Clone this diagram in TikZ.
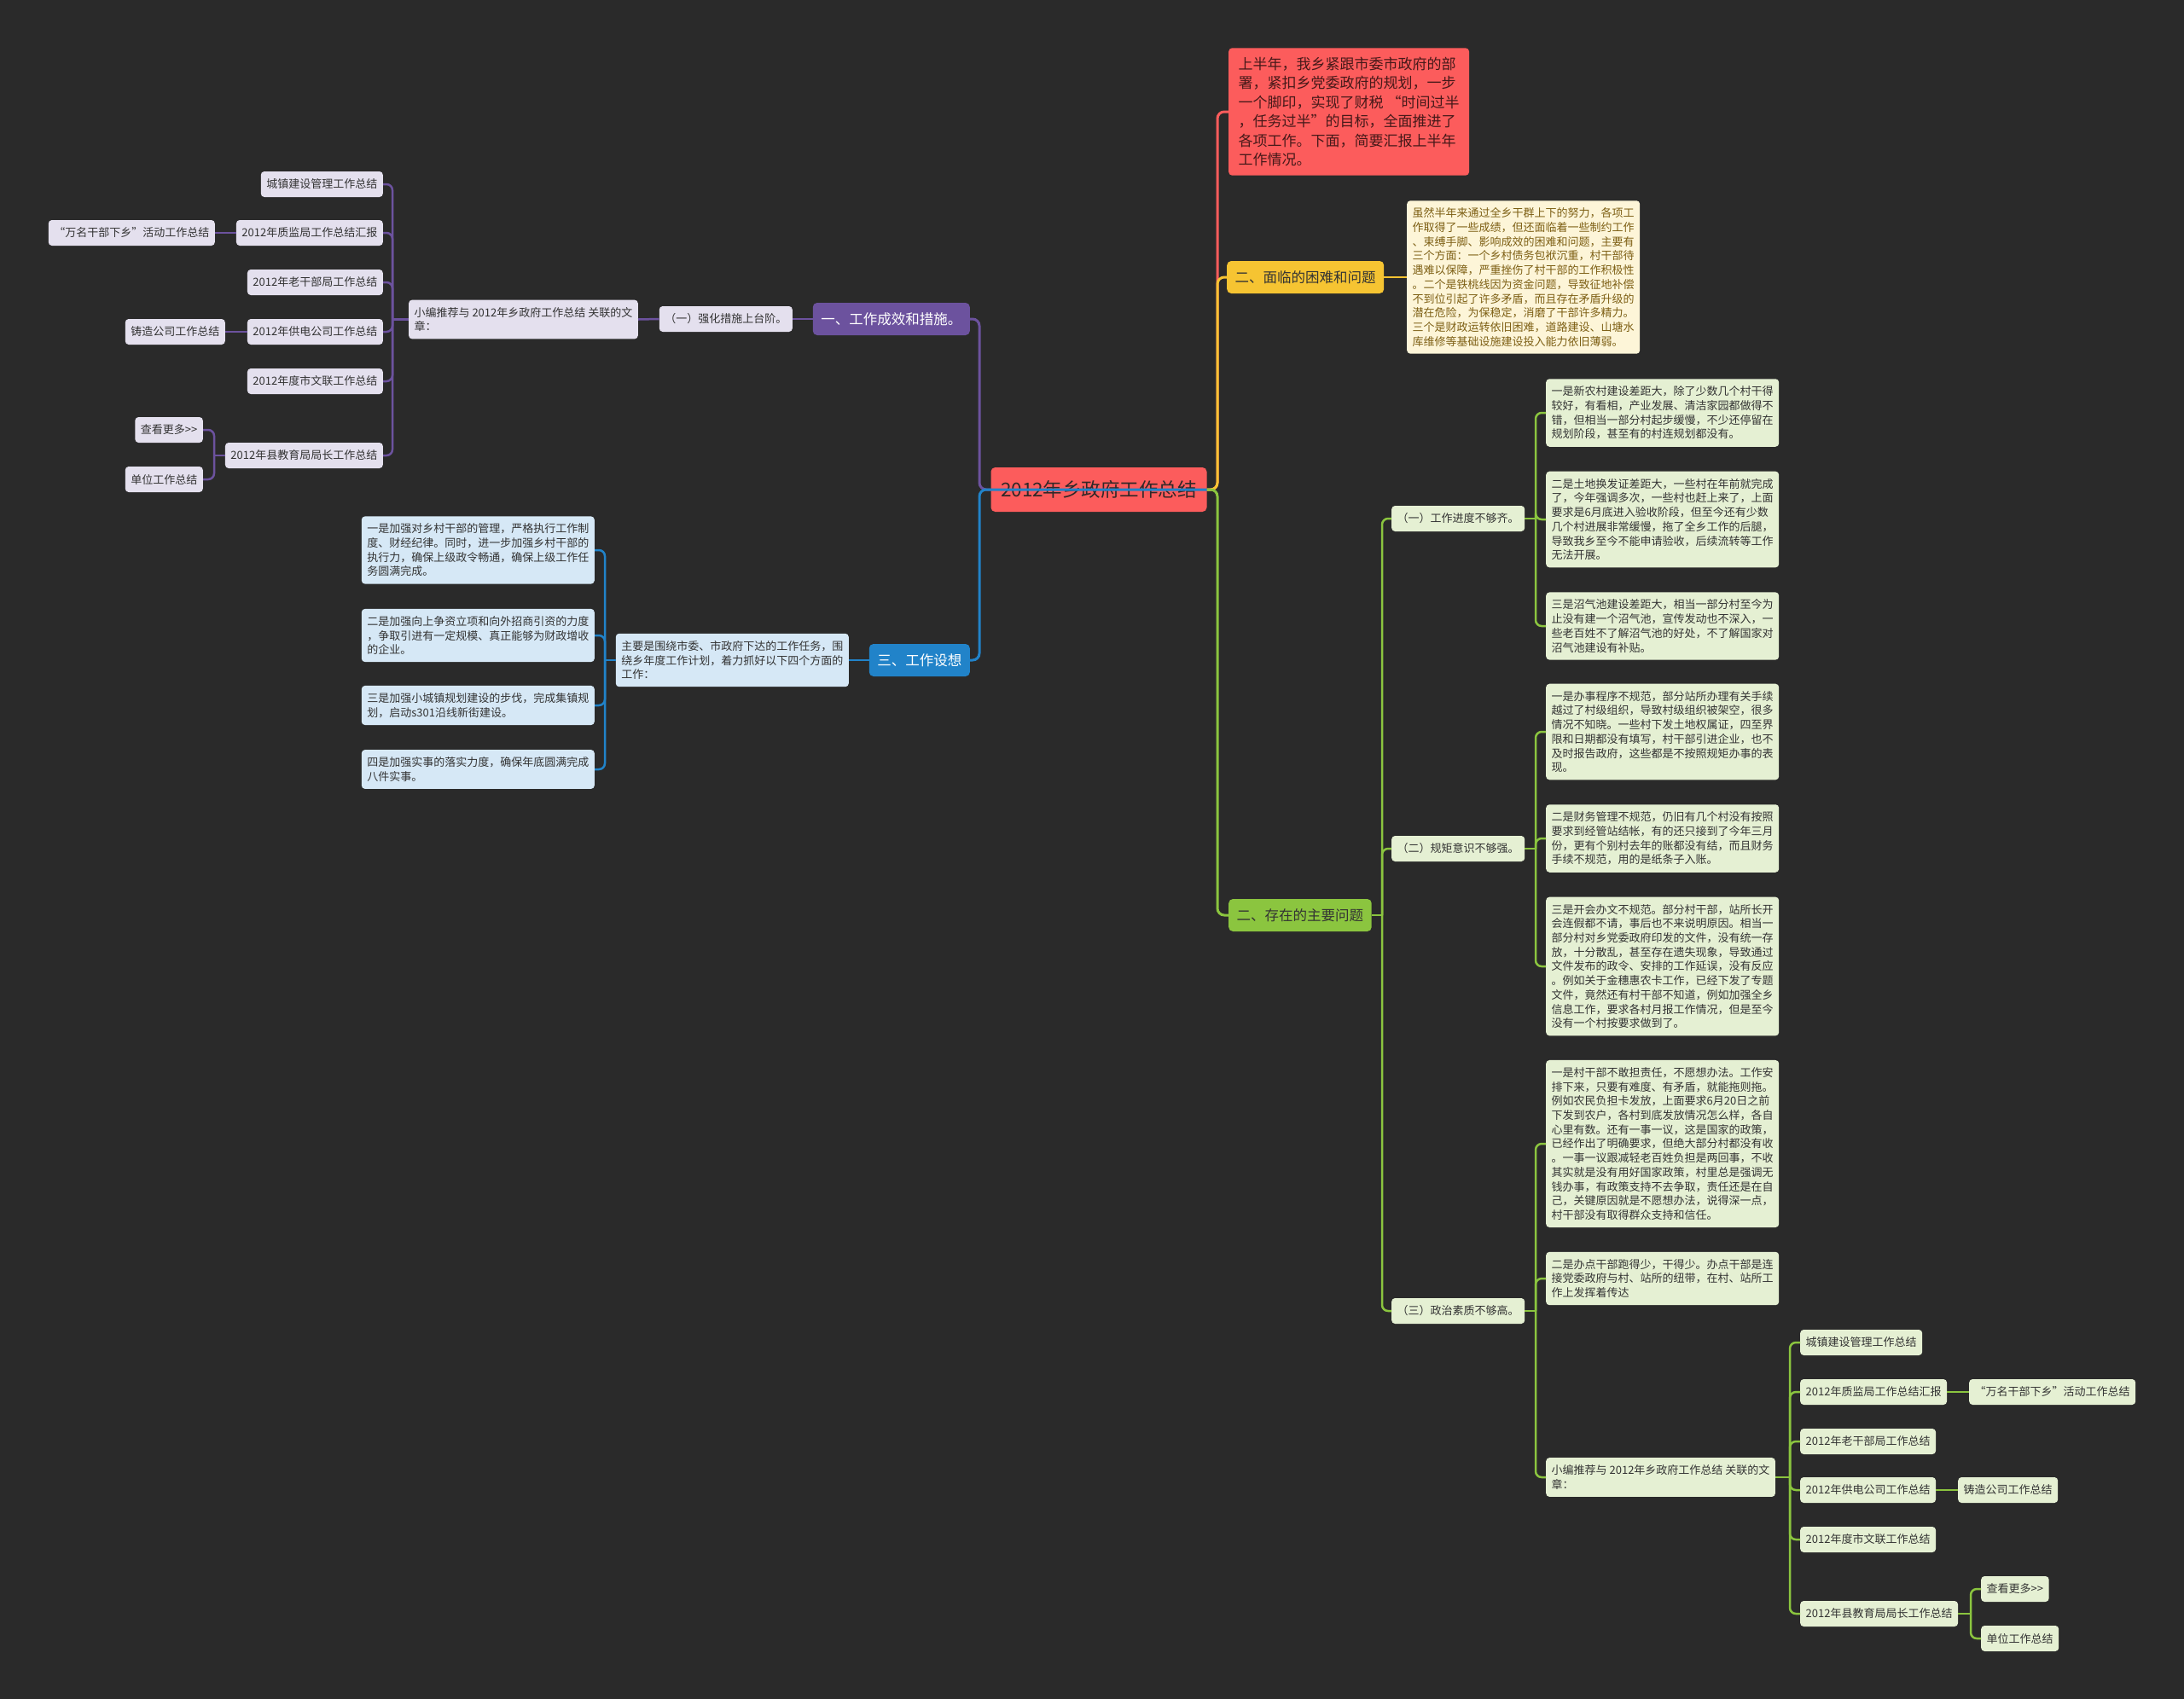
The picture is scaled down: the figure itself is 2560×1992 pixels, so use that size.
\documentclass[tikz,border=0pt]{standalone}
\usepackage{fontspec}
\setmainfont{Noto Sans CJK SC}
\usepackage{tikz}
\usetikzlibrary{positioning}

\definecolor{bgc}{RGB}{42,42,42}
\definecolor{rootred}{RGB}{252,92,92}
\definecolor{redtext}{RGB}{70,25,25}
\definecolor{purp}{RGB}{108,82,158}
\definecolor{purplight}{RGB}{228,224,238}
\definecolor{blu}{RGB}{33,131,201}
\definecolor{blulight}{RGB}{214,232,246}
\definecolor{yel}{RGB}{246,196,50}
\definecolor{yellight}{RGB}{253,245,216}
\definecolor{yeltext}{RGB}{125,95,20}
\definecolor{grn}{RGB}{139,197,63}
\definecolor{grnlight}{RGB}{229,240,211}
\definecolor{txt}{RGB}{51,51,51}

\tikzset{
  txtbox/.style={rounded corners=4pt, inner xsep=6.5pt, inner ysep=8.5pt, align=left, text=txt,
    font=\fontsize{13}{16.7}\selectfont},
  leaf/.style={txtbox, minimum height=30pt},
  mainnode/.style={rounded corners=5pt, inner xsep=9.5pt, minimum height=38pt, text=txt,
    font=\fontsize{16.5}{20}\selectfont},
  rootnode/.style={rounded corners=5pt, fill=rootred, text={rgb,255:red,50;green,40;blue,40},
    minimum width=253pt, minimum height=52pt, font=\fontsize{22.5}{26}\selectfont},
  conn/.style={line width=2.5pt, rounded corners=7pt},
  mainconn/.style={line width=3pt, rounded corners=8pt},
}

\begin{document}
\begin{tikzpicture}[x=1pt,y=-1pt]
\fill[bgc] (0,0) rectangle (2560,1992);
\useasboundingbox (0,0) rectangle (2560,1992);

\node[rootnode] (root) at (1288,574) {2012年乡政府工作总结};
\coordinate (rt) at (1427,574);
\coordinate (lt) at (1148,574);

% right: intro and difficulties
\node[txtbox, fill=rootred, text=redtext, font=\fontsize{17}{22.5}\selectfont,
  inner xsep=11.5pt, inner ysep=10.5pt, anchor=west] (intro) at (1440,131)
  {上半年，我乡紧跟市委市政府的部\\
   署，紧扣乡党委政府的规划，一步\\
   一个脚印，实现了财税 “时间过半\\
   ，任务过半”的目标，全面推进了\\
   各项工作。下面，简要汇报上半年\\
   工作情况。};

\node[mainnode, fill=yel, anchor=west] (face) at (1438,325) {二、面临的困难和问题};
\node[txtbox, fill=yellight, text=yeltext, anchor=west] (facetxt) at (1649,325)
  {虽然半年来通过全乡干群上下的努力，各项工\\
   作取得了一些成绩，但还面临着一些制约工作\\
   、束缚手脚、影响成效的困难和问题，主要有\\
   三个方面：一个乡村债务包袱沉重，村干部待\\
   遇难以保障，严重挫伤了村干部的工作积极性\\
   。二个是铁桃线因为资金问题，导致征地补偿\\
   不到位引起了许多矛盾，而且存在矛盾升级的\\
   潜在危险，为保稳定，消磨了干部许多精力。\\
   三个是财政运转依旧困难，道路建设、山塘水\\
   库维修等基础设施建设投入能力依旧薄弱。};

% right: main problems
\begin{scope}[every node/.append style={fill=grnlight, anchor=west}]
\node[mainnode, fill=grn] (exist) at (1440,1073) {二、存在的主要问题};
\node[leaf] (s1) at (1631,608) {（一）工作进度不够齐。};
\node[leaf] (s2) at (1631,995) {（二）规矩意识不够强。};
\node[leaf] (s3) at (1631,1537) {（三）政治素质不够高。};

\node[txtbox] (g1a) at (1812,484)
  {一是新农村建设差距大，除了少数几个村干得\\
   较好，有看相，产业发展、清洁家园都做得不\\
   错，但相当一部分村起步缓慢，不少还停留在\\
   规划阶段，甚至有的村连规划都没有。};
\node[txtbox] (g1b) at (1812,609)
  {二是土地换发证差距大，一些村在年前就完成\\
   了，今年强调多次，一些村也赶上来了，上面\\
   要求是6月底进入验收阶段，但至今还有少数\\
   几个村进展非常缓慢，拖了全乡工作的后腿，\\
   导致我乡至今不能申请验收，后续流转等工作\\
   无法开展。};
\node[txtbox] (g1c) at (1812,734)
  {三是沼气池建设差距大，相当一部分村至今为\\
   止没有建一个沼气池，宣传发动也不深入，一\\
   些老百姓不了解沼气池的好处，不了解国家对\\
   沼气池建设有补贴。};

\node[txtbox] (g2a) at (1812,858)
  {一是办事程序不规范，部分站所办理有关手续\\
   越过了村级组织，导致村级组织被架空，很多\\
   情况不知晓。一些村下发土地权属证，四至界\\
   限和日期都没有填写，村干部引进企业，也不\\
   及时报告政府，这些都是不按照规矩办事的表\\
   现。};
\node[txtbox] (g2b) at (1812,983)
  {二是财务管理不规范，仍旧有几个村没有按照\\
   要求到经管站结帐，有的还只接到了今年三月\\
   份，更有个别村去年的账都没有结，而且财务\\
   手续不规范，用的是纸条子入账。};
\node[txtbox] (g2c) at (1812,1133)
  {三是开会办文不规范。部分村干部，站所长开\\
   会连假都不请，事后也不来说明原因。相当一\\
   部分村对乡党委政府印发的文件，没有统一存\\
   放，十分散乱，甚至存在遗失现象，导致通过\\
   文件发布的政令、安排的工作延误，没有反应\\
   。例如关于金穗惠农卡工作，已经下发了专题\\
   文件，竟然还有村干部不知道，例如加强全乡\\
   信息工作，要求各村月报工作情况，但是至今\\
   没有一个村按要求做到了。};

\node[txtbox] (g3a) at (1812,1341)
  {一是村干部不敢担责任，不愿想办法。工作安\\
   排下来，只要有难度、有矛盾，就能拖则拖。\\
   例如农民负担卡发放，上面要求6月20日之前\\
   下发到农户，各村到底发放情况怎么样，各自\\
   心里有数。还有一事一议，这是国家的政策，\\
   已经作出了明确要求，但绝大部分村都没有收\\
   。一事一议跟减轻老百姓负担是两回事，不收\\
   其实就是没有用好国家政策，村里总是强调无\\
   钱办事，有政策支持不去争取，责任还是在自\\
   己，关键原因就是不愿想办法，说得深一点，\\
   村干部没有取得群众支持和信任。};
\node[txtbox] (g3b) at (1812,1499)
  {二是办点干部跑得少，干得少。办点干部是连\\
   接党委政府与村、站所的纽带，在村、站所工\\
   作上发挥着传达};
\node[txtbox] (recR) at (1812,1732)
  {小编推荐与 2012年乡政府工作总结 关联的文\\章：};

\node[leaf] (r1) at (2110,1574) {城镇建设管理工作总结};
\node[leaf] (r2) at (2110,1632) {2012年质监局工作总结汇报};
\node[leaf] (r2b) at (2308,1632) {“万名干部下乡”活动工作总结};
\node[leaf] (r3) at (2110,1690) {2012年老干部局工作总结};
\node[leaf] (r4) at (2110,1747) {2012年供电公司工作总结};
\node[leaf] (r4b) at (2295,1747) {铸造公司工作总结};
\node[leaf] (r5) at (2110,1805) {2012年度市文联工作总结};
\node[leaf] (r6) at (2110,1892) {2012年县教育局局长工作总结};
\node[leaf] (r6a) at (2322,1863) {查看更多>{}>};
\node[leaf] (r6b) at (2322,1921) {单位工作总结};
\end{scope}

% left: work results
\begin{scope}[every node/.append style={fill=purplight, anchor=east}]
\node[mainnode, fill=purp, text=white] (work) at (1137,374) {一、工作成效和措施。};
\node[leaf] (strong) at (929,374) {（一）强化措施上台阶。};
\node[txtbox] (recL) at (748,374.5) {小编推荐与 2012年乡政府工作总结 关联的文\\章：};
\node[leaf] (l1) at (449,216) {城镇建设管理工作总结};
\node[leaf] (l2) at (449,273) {2012年质监局工作总结汇报};
\node[leaf] (l2b) at (252,273) {“万名干部下乡”活动工作总结};
\node[leaf] (l3) at (449,331) {2012年老干部局工作总结};
\node[leaf] (l4) at (449,389) {2012年供电公司工作总结};
\node[leaf] (l4b) at (264,389) {铸造公司工作总结};
\node[leaf] (l5) at (449,447) {2012年度市文联工作总结};
\node[leaf] (l6) at (449,534) {2012年县教育局局长工作总结};
\node[leaf] (l6a) at (238,504) {查看更多>{}>};
\node[leaf] (l6b) at (238,562) {单位工作总结};
\end{scope}

% left: plans
\begin{scope}[every node/.append style={fill=blulight, anchor=east}]
\node[mainnode, fill=blu, text=white] (idea) at (1137,774) {三、工作设想};
\node[txtbox] (ideatxt) at (995,774)
  {主要是围绕市委、市政府下达的工作任务，围\\
   绕乡年度工作计划，着力抓好以下四个方面的\\
   工作：};
\node[txtbox] (b1) at (697,645)
  {一是加强对乡村干部的管理，严格执行工作制\\
   度、财经纪律。同时，进一步加强乡村干部的\\
   执行力，确保上级政令畅通，确保上级工作任\\
   务圆满完成。};
\node[txtbox] (b2) at (697,745)
  {二是加强向上争资立项和向外招商引资的力度\\
   ，争取引进有一定规模、真正能够为财政增收\\
   的企业。};
\node[txtbox] (b3) at (697,827)
  {三是加强小城镇规划建设的步伐，完成集镇规\\
   划，启动s301沿线新街建设。};
\node[txtbox] (b4) at (697,902)
  {四是加强实事的落实力度，确保年底圆满完成\\
   八件实事。};
\end{scope}

% connectors from the root
\draw[mainconn, rootred] (root.east) -- (rt) |- (intro.west);
\draw[mainconn, yel] (root.east) -- (rt) |- (face.west);
\draw[mainconn, grn] (root.east) -- (rt) |- (exist.west);
\draw[mainconn, purp] (root.west) -- (lt) |- (work.east);
\draw[mainconn, blu] (root.east) -- (lt) |- (idea.east);

% purple branch
\coordinate (lt2) at (460,374.5);
\coordinate (lt3) at (251,534);
\draw[conn, purp] (work.west) -- (strong.east);
\draw[conn, purp] (strong.west) -- (recL.east);
\draw[conn, purp] (recL.west) -- (lt2);
\foreach \n in {l1,l2,l3,l4,l5,l6}
  \draw[conn, purp] (lt2) |- (\n.east);
\draw[conn, purp] (l2.west) -- (l2b.east);
\draw[conn, purp] (l4.west) -- (l4b.east);
\draw[conn, purp] (l6.west) -- (lt3);
\draw[conn, purp] (lt3) |- (l6a.east);
\draw[conn, purp] (lt3) |- (l6b.east);

% blue branch
\coordinate (bt) at (709,774);
\draw[conn, blu] (idea.west) -- (ideatxt.east);
\draw[conn, blu] (ideatxt.west) -- (bt);
\foreach \n in {b1,b2,b3,b4}
  \draw[conn, blu] (bt) |- (\n.east);

% yellow branch
\draw[conn, yel] (face.east) -- (facetxt.west);

% green branch
\coordinate (gt) at (1620,1073);
\coordinate (g1t) at (1800,608);
\coordinate (g2t) at (1800,995);
\coordinate (g3t) at (1800,1537);
\coordinate (rt2) at (2098,1732);
\coordinate (rt3) at (2310,1892);
\draw[conn, grn] (exist.east) -- (gt);
\foreach \n in {s1,s2,s3}
  \draw[conn, grn] (gt) |- (\n.west);
\draw[conn, grn] (s1.east) -- (g1t);
\foreach \n in {g1a,g1b,g1c}
  \draw[conn, grn] (g1t) |- (\n.west);
\draw[conn, grn] (s2.east) -- (g2t);
\foreach \n in {g2a,g2b,g2c}
  \draw[conn, grn] (g2t) |- (\n.west);
\draw[conn, grn] (s3.east) -- (g3t);
\foreach \n in {g3a,g3b,recR}
  \draw[conn, grn] (g3t) |- (\n.west);
\draw[conn, grn] (recR.east) -- (rt2);
\foreach \n in {r1,r2,r3,r4,r5,r6}
  \draw[conn, grn] (rt2) |- (\n.west);
\draw[conn, grn] (r2.east) -- (r2b.west);
\draw[conn, grn] (r4.east) -- (r4b.west);
\draw[conn, grn] (r6.east) -- (rt3);
\draw[conn, grn] (rt3) |- (r6a.west);
\draw[conn, grn] (rt3) |- (r6b.west);

\end{tikzpicture}
\end{document}
